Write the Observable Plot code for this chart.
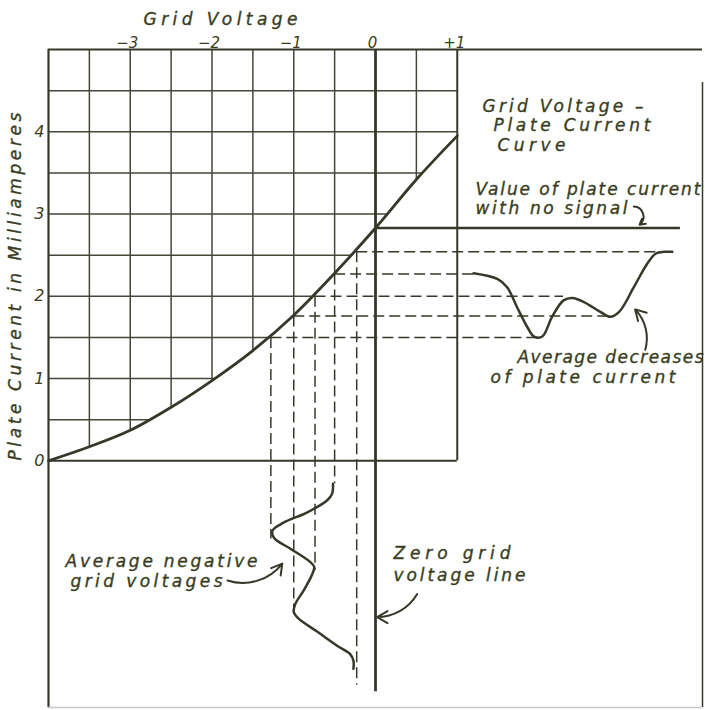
<!DOCTYPE html>
<html><head><meta charset="utf-8">
<script src="https://cdn.jsdelivr.net/npm/d3@7"></script>
<script src="https://cdn.jsdelivr.net/npm/@observablehq/plot@0.6"></script>
<style>
html,body{margin:0;padding:0;background:#fff;}
</style></head>
<body><div id="chart"></div>
<script>
// ---- data ----
const xTickValues = [-3, -2, -1, 0, 1];
const xTickLabels = ["−3", "−2", "−1", "0", "+1"];
const yTickValues = [0, 1, 2, 3, 4];
const yTickLabels = ["0", "1", "2", "3", "4"];

// grid voltage – plate current characteristic
const curveV = [-4, -3.5, -3, -2.5, -2, -1.5, -1, -0.5, 0, 0.5, 1];
const curveI = [0, 0.17, 0.37, 0.65, 0.975, 1.34, 1.77, 2.28, 2.83, 3.42, 3.95];

// graph-paper lines
const gridLinesV = [-3.5, -3, -2.5, -2, -1.5, -1, -0.5, 0.5];
const gridLinesI = [0.5, 1, 1.5, 2, 2.5, 3, 3.5, 4, 4.5];

// projection points of the signal swing
const swingV = [-1.28, -1.0, -0.74, -0.5, -0.23];
const swingI = [1.5, 1.76, 2.0, 2.27, 2.54];
const swingIEnd = [2.0, 2.87, 2.3, 1.2, 3.63];          // where horizontal dashes stop
const swingVEnd = [-0.95, -1.86, -1.33, -0.28, -2.73];  // where vertical dashes stop

const noSignalI = 2.83, noSignalEnd = 3.73;
const zeroLineEnd = -2.81;

// plate-current waveform (right)
const plateT = [1.20, 1.49, 1.61, 1.73, 1.86, 1.94, 2.04, 2.16, 2.30, 2.41, 2.55, 2.75, 2.87, 2.98, 3.16, 3.32, 3.43, 3.53, 3.63];
const plateI = [2.28, 2.21, 2.11, 1.87, 1.62, 1.51, 1.51, 1.75, 1.95, 1.98, 1.93, 1.81, 1.75, 1.81, 2.11, 2.39, 2.52, 2.54, 2.54];

// grid-voltage waveform (bottom)
const gridWaveV = [-0.52, -0.53, -0.59, -0.84, -1.12, -1.26, -1.24, -1.04, -0.80, -0.75, -0.77, -0.88, -0.98, -1.00, -0.94, -0.71, -0.47, -0.31, -0.27, -0.27];
const gridWaveT = [-0.28, -0.40, -0.48, -0.63, -0.75, -0.85, -0.94, -1.07, -1.23, -1.29, -1.37, -1.58, -1.74, -1.84, -1.92, -2.08, -2.25, -2.35, -2.43, -2.53];

// ---- helpers ----
function curveAt(v) {
  for (let i = 0; i < curveV.length - 1; i++) {
    if (v >= curveV[i] && v <= curveV[i + 1]) {
      const t = (v - curveV[i]) / (curveV[i + 1] - curveV[i]);
      return curveI[i] + t * (curveI[i + 1] - curveI[i]);
    }
  }
  return curveI[curveI.length - 1];
}
function curveInv(h) {
  if (h >= curveI[curveI.length - 1]) return curveV[curveV.length - 1];
  for (let i = 0; i < curveI.length - 1; i++) {
    if (h >= curveI[i] && h <= curveI[i + 1]) {
      const t = (h - curveI[i]) / (curveI[i + 1] - curveI[i]);
      return curveV[i] + t * (curveV[i + 1] - curveV[i]);
    }
  }
  return curveV[0];
}

const curveData = curveV.map((v, i) => ({v, i: curveI[i]}));
const plateData = plateT.map((t, k) => ({t, i: plateI[k]}));
const gridWave = gridWaveV.map((v, k) => ({v, t: gridWaveT[k]}));
const swing = swingV.map((v, k) => ({v, i: swingI[k], xe: swingIEnd[k], ye: swingVEnd[k]}));

const ink = "#36382a";
const gridInk = "#45473a";
const textInk = "#3a3d22";
const dash = "11,5";
const fs = 17;

function label(t, x, y, opts = {}) {
  return Plot.text([t], {x, y, text: d => d, textAnchor: "start", fontSize: fs, fill: textInk, stroke: textInk, strokeWidth: 0.35, ...opts});
}

const chart = Plot.plot({
  width: 705,
  height: 710,
  marginLeft: 48, marginRight: 3, marginTop: 49, marginBottom: 3,
  x: {domain: [-4, 4]},
  y: {domain: [-3, 5]},
  style: {fontFamily: "DejaVu Sans", fontStyle: "italic", background: "#fff", color: textInk},
  marks: [
    // graph paper, clipped at the curve
    Plot.ruleX(gridLinesV, {x: d => d, y1: d => curveAt(d), y2: 5, stroke: gridInk, strokeWidth: 1.5}),
    Plot.ruleY(gridLinesI, {y: d => d, x1: -4, x2: d => curveInv(d), stroke: gridInk, strokeWidth: 1.5}),
    // box of the graph
    Plot.ruleY([0], {x1: -4, x2: 1, stroke: ink, strokeWidth: 2}),
    Plot.ruleX([1], {y1: 0, y2: 5, stroke: ink, strokeWidth: 2}),
    // outer frame
    Plot.ruleX([-4], {y1: -3, y2: 5, stroke: ink, strokeWidth: 2.2}),
    Plot.ruleY([5], {x1: -4, x2: 4, stroke: ink, strokeWidth: 2.2}),
    Plot.ruleX([4], {y1: -3, y2: 4.6, stroke: ink, strokeWidth: 1.5}),
    Plot.ruleY([-3], {x1: -4, x2: 4, stroke: "#c8c8c8", strokeWidth: 1.5}),
    // projections
    Plot.ruleY(swing, {y: "i", x1: "v", x2: "xe", stroke: ink, strokeWidth: 1.5, strokeDasharray: dash}),
    Plot.ruleX(swing, {x: "v", y1: "i", y2: "ye", stroke: ink, strokeWidth: 1.5, strokeDasharray: dash}),
    // no-signal line and zero grid voltage line
    Plot.ruleY([noSignalI], {x1: 0, x2: noSignalEnd, stroke: ink, strokeWidth: 2.5}),
    Plot.ruleX([0], {y1: zeroLineEnd, y2: 5, stroke: ink, strokeWidth: 2.8}),
    // waveforms
    Plot.line(plateData, {x: "t", y: "i", curve: "catmull-rom", stroke: ink, strokeWidth: 2.5}),
    Plot.line(gridWave, {x: "v", y: "t", curve: "catmull-rom", stroke: ink, strokeWidth: 2.5}),
    // characteristic
    Plot.line(curveData, {x: "v", y: "i", curve: "catmull-rom", stroke: ink, strokeWidth: 2.8}),
    // axes
    Plot.axisX(xTickValues, {anchor: "top", tickSize: 0, tickPadding: 2, dx: -3, fontSize: 15, label: null,
      tickFormat: d => xTickLabels[xTickValues.indexOf(d)]}),
    Plot.axisY(yTickValues, {anchor: "left", tickSize: 0, tickPadding: 4, fontSize: 16, label: null,
      tickFormat: d => yTickLabels[yTickValues.indexOf(d)]}),
    Plot.text(["Grid Voltage"], {x: -1.896, y: 5.365, text: d => d, fontSize: 17, fill: textInk, stroke: textInk, strokeWidth: 0.35}),
    Plot.text(["Plate Current in Milliamperes"], {x: -4.404, y: 2.118, text: d => d, rotate: -90, fontSize: 17, fill: textInk, stroke: textInk, strokeWidth: 0.35}),
    // annotations
    label("Grid Voltage –", 1.309, 4.307),
    label("Plate Current", 1.443, 4.076),
    label("Curve", 1.492, 3.833),
    label("Value of plate current", 1.223, 3.298),
    label("with no signal", 1.223, 3.067),
    label("Average decreases", 1.737, 1.255),
    label("of plate current", 1.407, 1.012),
    label("Average negative", -3.792, -1.225),
    label("grid voltages", -3.731, -1.468),
    label("Zero grid", 0.220, -1.128),
    label("voltage line", 0.220, -1.395),
    // arrows
    Plot.arrow([0], {x1: 3.16, y1: 3.09, x2: 3.23, y2: 2.87, bend: 70, stroke: ink, strokeWidth: 2, headLength: 7}),
    Plot.arrow([0], {x1: 3.30, y1: 1.35, x2: 3.176, y2: 1.84, bend: -30, stroke: ink, strokeWidth: 2, headLength: 9}),
    Plot.arrow([0], {x1: -1.81, y1: -1.456, x2: -1.14, y2: -1.25, bend: -35, stroke: ink, strokeWidth: 2, headLength: 9}),
    Plot.arrow([0], {x1: 0.51, y1: -1.62, x2: 0.02, y2: -1.90, bend: 30, stroke: ink, strokeWidth: 2, headLength: 9})
  ]
});
document.getElementById("chart").appendChild(chart);

// stretch the hand-lettered texts to the lengths they take in the drawing
const textWidths = new Map([
  ["Grid Voltage", 154], ["Grid Voltage –", 161], ["Plate Current", 157], ["Curve", 68],
  ["Value of plate current", 225], ["with no signal", 152],
  ["Average decreases", 186], ["of plate current", 185],
  ["Average negative", 192], ["grid voltages", 152],
  ["Zero grid", 117], ["voltage line", 132],
  ["Plate Current in Milliamperes", 348]
]);
d3.select(chart).selectAll("text").each(function () {
  const w = textWidths.get(this.textContent);
  if (w) { this.setAttribute("textLength", w); this.setAttribute("lengthAdjust", "spacing"); }
});
</script>
</body></html>
